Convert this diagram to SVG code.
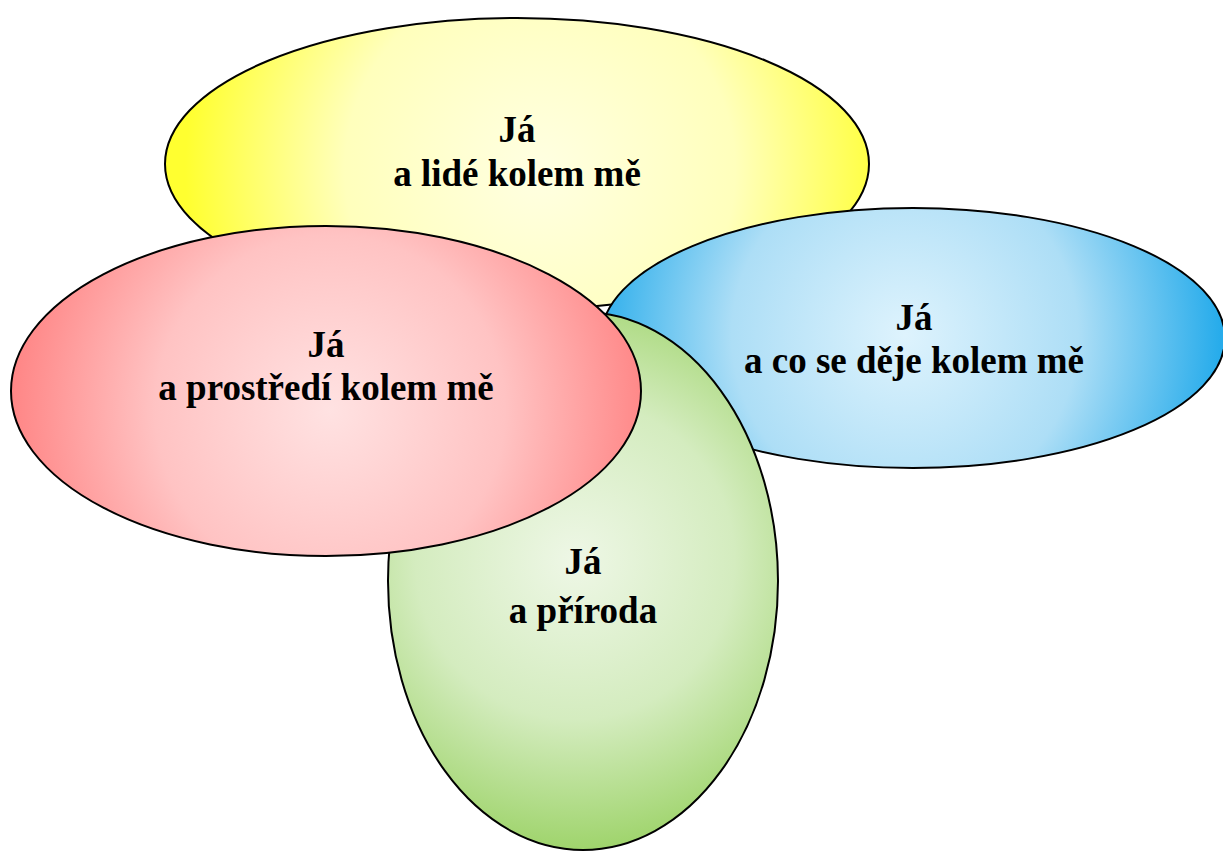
<svg xmlns="http://www.w3.org/2000/svg" width="1223" height="852" viewBox="0 0 1223 852">
<style>
.sh{stroke:#000;stroke-width:2}
.t{font-family:"Liberation Serif","Times New Roman",serif;font-weight:bold;font-size:37px;fill:#000;text-anchor:middle}
</style>
<defs>
<radialGradient id="gy" gradientUnits="userSpaceOnUse" cx="540" cy="170" r="355"><stop offset="0" stop-color="#ffffe2"/><stop offset="0.55" stop-color="#ffffbc"/><stop offset="1" stop-color="#ffff30"/></radialGradient>
<radialGradient id="gb" gradientUnits="userSpaceOnUse" cx="905" cy="335" r="315"><stop offset="0" stop-color="#def3fd"/><stop offset="0.55" stop-color="#addef6"/><stop offset="1" stop-color="#27aceb"/></radialGradient>
<radialGradient id="gg" gradientUnits="userSpaceOnUse" cx="575" cy="560" r="290"><stop offset="0" stop-color="#eef7e6"/><stop offset="0.55" stop-color="#d4ecbf"/><stop offset="1" stop-color="#9fd46c"/></radialGradient>
<radialGradient id="gr" gradientUnits="userSpaceOnUse" cx="330" cy="410" r="318"><stop offset="0" stop-color="#ffe2e2"/><stop offset="0.55" stop-color="#ffc3c3"/><stop offset="1" stop-color="#ff8686"/></radialGradient>
</defs>
<rect width="1223" height="852" fill="#fff"/>
<g id="node-lide">
<ellipse class="sh" cx="517" cy="164" rx="352" ry="146" fill="url(#gy)"/>
<text class="t" x="517" y="142">Já</text>
<text class="t" x="517" y="186">a lidé kolem mě</text>
</g>
<g id="node-deje">
<ellipse class="sh" cx="913" cy="338" rx="312" ry="130" fill="url(#gb)"/>
<text class="t" x="914" y="330">Já</text>
<text class="t" x="914" y="373">a co se děje kolem mě</text>
</g>
<g id="node-priroda">
<ellipse class="sh" cx="583" cy="581" rx="195" ry="269" fill="url(#gg)"/>
<text class="t" x="583" y="574">Já</text>
<text class="t" x="583" y="623">a příroda</text>
</g>
<g id="node-prostredi">
<ellipse class="sh" cx="326" cy="391" rx="315" ry="165" fill="url(#gr)"/>
<text class="t" x="326" y="357">Já</text>
<text class="t" x="326" y="400">a prostředí kolem mě</text>
</g>
<g id="connectors"/>
</svg>
